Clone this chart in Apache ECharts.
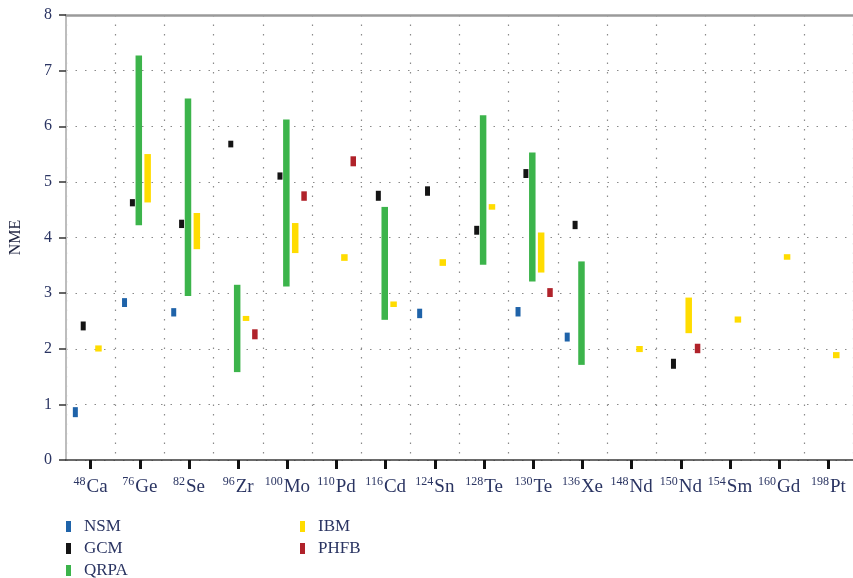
<!DOCTYPE html>
<html>
<head>
<meta charset="utf-8">
<script src="https://cdn.jsdelivr.net/npm/echarts@6/dist/echarts.min.js"></script>
<style>
  html, body { margin: 0; padding: 0; background: #fff; }
  #chart { width: 853px; height: 578px; }
</style>
</head>
<body>
<div id="chart"></div>
<script>
// Nuclei (mass number + element symbol)
const massNumbers = ['48', '76', '82', '96', '100', '110', '116', '124', '128', '130', '136', '148', '150', '154', '160', '198'];
const elements = ['Ca', 'Ge', 'Se', 'Zr', 'Mo', 'Pd', 'Cd', 'Sn', 'Te', 'Te', 'Xe', 'Nd', 'Nd', 'Sm', 'Gd', 'Pt'];

// NME ranges [low, high] per nucleus, null where a model gives no value
const nsm = [[0.77, 0.95], [2.75, 2.91], [2.58, 2.73], null, null, null, null, [2.55, 2.72], null, [2.58, 2.75], [2.13, 2.29], null, null, null, null, null];
const gcm = [[2.33, 2.49], [4.56, 4.69], [4.17, 4.32], [5.62, 5.74], [5.04, 5.17], null, [4.66, 4.84], [4.75, 4.92], [4.05, 4.21], [5.07, 5.23], [4.15, 4.30], null, [1.64, 1.82], null, null, null];
const qrpa = [null, [4.22, 7.27], [2.95, 6.50], [1.58, 3.15], [3.12, 6.12], null, [2.52, 4.55], null, [3.51, 6.20], [3.21, 5.53], [1.71, 3.57], null, null, null, null, null];
const ibm = [[1.95, 2.06], [4.63, 5.50], [3.79, 4.44], [2.50, 2.59], [3.72, 4.26], [3.58, 3.70], [2.75, 2.85], [3.49, 3.61], [4.50, 4.60], [3.37, 4.09], null, [1.94, 2.05], [2.28, 2.92], [2.47, 2.58], [3.60, 3.70], [1.83, 1.94]];
const phfb = [null, null, null, [2.17, 2.35], [4.66, 4.83], [5.28, 5.46], null, null, null, [2.93, 3.09], null, null, [1.92, 2.09], null, null, null];

const yTicks = [0, 1, 2, 3, 4, 5, 6, 7, 8];

const serif = '"Liberation Serif", "DejaVu Serif", serif';
const textColor = '#2a3462';

const categories = massNumbers.map((m, i) => m + '|' + elements[i]);

// model -> data, colour, horizontal offset within the nucleus slot (fraction of slot), bar width (px)
const models = [
  { name: 'NSM',  data: nsm,  color: '#1f63a9', offset: -0.31, width: 5 },
  { name: 'GCM',  data: gcm,  color: '#141414', offset: -0.15, width: 5 },
  { name: 'QRPA', data: qrpa, color: '#3cb44b', offset: -0.02, width: 6.5 },
  { name: 'IBM',  data: ibm,  color: '#ffdc00', offset: 0.16,  width: 6.5 },
  { name: 'PHFB', data: phfb, color: '#b0222a', offset: 0.34,  width: 5.5 }
];

// legend placement: two columns below the plot
const legendSlots = {
  NSM:  { left: 66,  top: 518 },
  GCM:  { left: 66,  top: 540 },
  QRPA: { left: 66,  top: 562 },
  IBM:  { left: 300, top: 518 },
  PHFB: { left: 300, top: 540 }
};

function makeSeries(m) {
  const points = [];
  m.data.forEach((r, i) => { if (r) points.push([i, r[0], r[1]]); });
  return {
    name: m.name,
    type: 'custom',
    itemStyle: { color: m.color },
    encode: { x: 0, y: [1, 2] },
    data: points,
    renderItem: function (params, api) {
      const i = api.value(0);
      const lo = api.coord([i, api.value(1)]);
      const hi = api.coord([i, api.value(2)]);
      const band = api.size([1, 0])[0];
      const cx = lo[0] + m.offset * band;
      return {
        type: 'rect',
        shape: { x: cx - m.width / 2, y: hi[1], width: m.width, height: lo[1] - hi[1] },
        style: { fill: m.color }
      };
    }
  };
}

const chart = echarts.init(document.getElementById('chart'), null, { renderer: 'canvas' });

const legendText = { fontFamily: serif, fontSize: 17, color: textColor, padding: [0, 0, 0, 8] };

const gridDots = { color: '#8a8a8a', type: [1.5, 8], width: 1.2 };

chart.setOption({
  animation: false,
  backgroundColor: '#fff',
  grid: { left: 66, right: -7, top: 15, bottom: 118 },
  legend: models.map(m => ({
    data: [m.name],
    left: legendSlots[m.name].left,
    top: legendSlots[m.name].top,
    padding: 0,
    itemWidth: 5,
    itemHeight: 11,
    icon: 'rect',
    textStyle: legendText,
    selectedMode: false
  })),
  xAxis: [
    {
      type: 'category',
      data: categories,
      boundaryGap: true,
      axisLine: { show: true, lineStyle: { color: '#3a3a3a', width: 1.5 } },
      axisTick: { show: true, inside: false, alignWithLabel: true, interval: 0, length: 9, lineStyle: { color: '#111', width: 3 } },
      axisLabel: {
        interval: 0,
        margin: 16,
        formatter: function (v) {
          const p = v.split('|');
          return '{sup|' + p[0] + '}{main|' + p[1] + '}';
        },
        rich: {
          sup: { fontFamily: serif, fontSize: 12, color: textColor, verticalAlign: 'top', lineHeight: 22, padding: [0, 1, 0, 0] },
          main: { fontFamily: serif, fontSize: 19, color: textColor, lineHeight: 22 }
        }
      },
      splitLine: { show: true, interval: 0, lineStyle: gridDots }
    },
    {
      type: 'category',
      data: categories,
      position: 'top',
      axisLine: { lineStyle: { color: '#9a9a9a', width: 2.5 } },
      axisTick: { show: false },
      axisLabel: { show: false },
      splitLine: { show: false }
    }
  ],
  yAxis: {
    type: 'value',
    min: yTicks[0],
    max: yTicks[yTicks.length - 1],
    interval: 1,
    name: 'NME',
    nameLocation: 'middle',
    nameGap: 42,
    nameTextStyle: { fontFamily: serif, fontSize: 16, color: '#1e2340' },
    axisLine: { show: true, lineStyle: { color: '#bdbdbd', width: 2 } },
    axisTick: { show: true, length: 7, lineStyle: { color: '#333', width: 1.5 } },
    axisLabel: { margin: 14, fontFamily: serif, fontSize: 16, color: textColor },
    splitLine: { show: true, lineStyle: gridDots }
  },
  series: models.map(makeSeries)
});
</script>
</body>
</html>
